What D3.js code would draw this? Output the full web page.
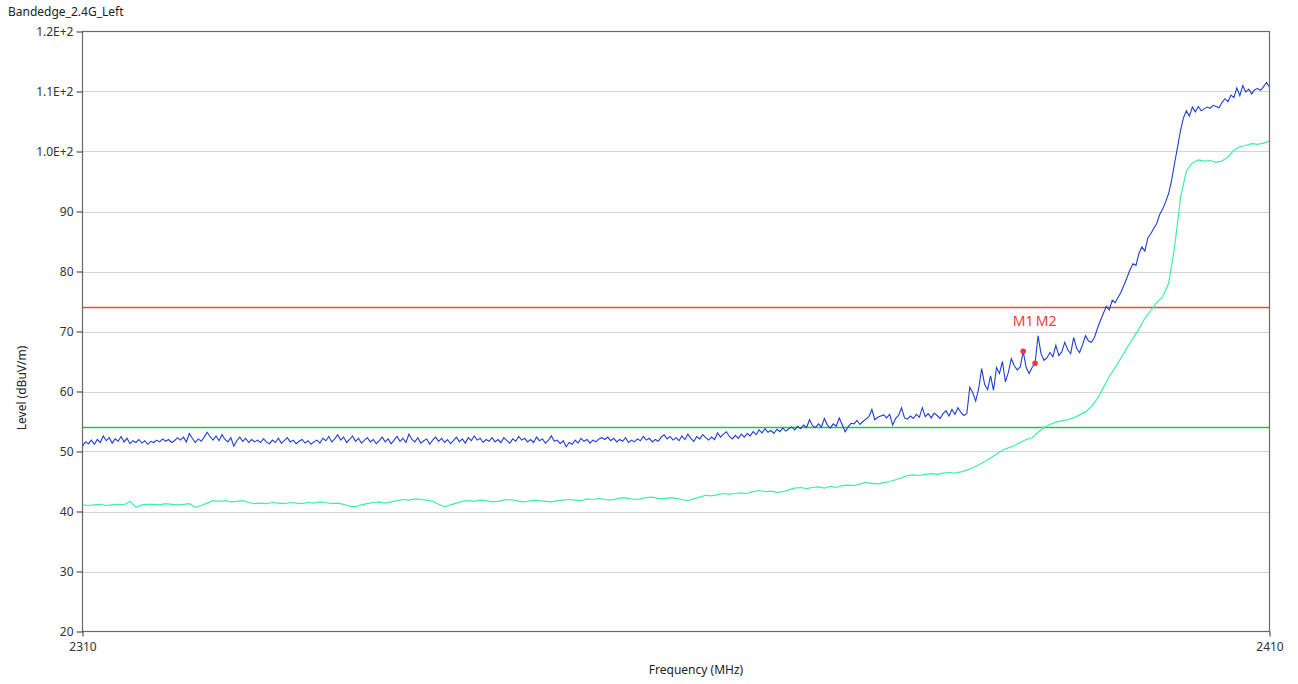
<!DOCTYPE html>
<html>
<head>
<meta charset="utf-8">
<script src="https://cdn.jsdelivr.net/npm/d3@7"></script>
<style>
  html, body { margin: 0; padding: 0; background: #fff; }
  svg { display: block; font-family: "Noto Sans", "Open Sans", sans-serif; }
</style>
</head>
<body>
<svg id="chart" width="1298" height="684"></svg>
<script>
// ---------------- DATA ----------------
const chartTitle = "Bandedge_2.4G_Left";
const xTitle = "Frequency (MHz)";
const yTitle = "Level (dBuV/m)";
const freqStart = 2310, freqStop = 2410;
const peakStep = 0.25;   // MHz between peak-trace samples
const avgStep = 0.5;     // MHz between average-trace samples
const yTickValues = [20, 30, 40, 50, 60, 70, 80, 90, 100, 110, 120];
const yTickLabels = ["20", "30", "40", "50", "60", "70", "80", "90", "1.0E+2", "1.1E+2", "1.2E+2"];
const xTickValues = [2310, 2410];
const limitPeak = 74;
const limitAvg = 54;

// Peak trace (blue), 2310 .. 2410 MHz every 0.25 MHz
const peakLevels = [
  50.9, 51.6, 51.3, 51.9, 51.2, 52.0, 51.5, 52.6, 51.8, 52.3, 51.4, 52.1, 51.7, 52.5, 51.6, 52.2, 51.3, 51.8, 51.5, 52.0,
  51.4, 51.8, 51.2, 51.7, 51.5, 51.9, 51.6, 52.1, 51.7, 52.0, 51.5, 51.8, 52.3, 51.9, 52.4, 51.6, 53.0, 52.2, 51.5, 52.1,
  51.7, 52.4, 53.2, 52.5, 51.9, 52.6, 51.8, 52.8, 52.0, 51.6, 52.3, 50.9, 51.8, 52.4, 51.7, 52.2, 51.5, 52.0, 51.6, 51.9,
  51.5, 52.1, 51.6, 51.3, 51.9, 51.5, 52.2, 51.4, 51.8, 52.3, 51.6, 51.9, 51.3, 51.7, 52.0, 51.4, 51.8, 51.2, 51.6, 51.9,
  51.4, 52.2, 51.8, 52.5, 51.6, 52.1, 52.8, 51.9, 52.4, 51.5, 52.0, 52.6, 51.7, 52.2, 51.4, 51.9, 52.3, 51.6, 52.0, 51.3,
  51.8, 52.4, 51.6, 52.1, 51.3, 51.9, 52.5, 51.7, 52.2, 51.5, 52.9, 52.0, 51.6, 52.3, 51.4, 51.8, 52.1, 51.2, 51.9, 52.4,
  51.7, 52.2, 51.5, 52.0, 51.3, 51.8, 52.4, 51.6, 52.1, 51.4, 52.3, 51.8, 52.6, 51.9, 52.2, 51.5, 52.0, 51.7, 52.3, 51.6,
  52.0, 51.5, 52.3, 51.8, 51.4, 52.1, 51.7, 52.5, 51.9, 52.2, 51.6, 52.0, 51.5, 52.4, 51.8, 52.1, 51.4, 51.9, 52.6, 51.7,
  51.9, 51.3, 51.8, 50.8, 51.5, 51.2, 51.9, 51.4, 52.2, 51.7, 52.0, 51.4, 51.9, 51.6, 52.1, 52.3, 52.0, 52.4, 51.8, 52.2,
  51.6, 52.0, 51.7, 52.3, 51.5, 51.9, 51.6, 52.1, 51.8, 52.5, 51.9, 52.2, 51.6, 52.0, 51.7, 52.4, 52.8, 52.1, 52.5, 51.9,
  52.3, 51.8, 52.6, 52.0, 52.9, 52.2, 51.7, 52.5, 52.1, 52.8, 52.3, 51.9, 52.4, 52.0, 53.1, 52.4, 52.9, 53.3, 52.5, 52.1,
  52.7, 52.2, 52.9, 52.4, 53.0, 52.6, 53.3, 52.8, 53.6, 53.1, 53.8, 53.2, 53.5, 53.0, 53.7, 53.3, 53.9, 53.4, 53.8, 54.1,
  53.6, 54.2, 53.8, 54.4, 54.0, 55.3, 54.3, 54.0, 54.6, 54.1, 55.5, 54.4, 53.9, 54.6, 54.2, 55.6, 54.5, 53.3, 54.1, 54.7,
  54.6, 55.2, 54.5, 55.0, 55.4, 55.8, 57.0, 55.3, 55.7, 55.9, 56.1, 55.6, 56.2, 54.4, 55.5, 56.0, 57.3, 55.6, 55.4, 55.9,
  55.5, 56.2, 55.7, 57.3, 55.8, 56.3, 55.6, 56.4, 56.0, 55.5, 56.3, 56.8, 55.9, 57.0, 56.2, 57.3, 56.5, 56.0, 56.3, 60.7,
  59.8, 58.4, 60.5, 63.8, 61.2, 60.3, 62.6, 60.2, 64.0, 63.0, 65.0, 61.6, 63.2, 65.5, 64.3, 63.6, 64.1, 66.7, 64.0, 63.0,
  64.0, 64.7, 69.3, 66.3, 65.2, 65.6, 66.5, 65.8, 67.7, 66.0, 66.6, 68.2, 67.0, 66.3, 69.0, 67.2, 66.5, 67.8, 69.3, 68.4,
  68.2, 69.0, 70.5, 71.8, 73.0, 74.2, 73.6, 75.2, 74.8, 75.7, 76.6, 77.8, 79.0, 80.3, 81.3, 81.0, 83.0, 84.1, 83.4, 85.6,
  86.3, 87.2, 88.0, 89.5, 90.4, 91.6, 93.0, 95.2, 98.0, 100.7, 103.5, 105.6, 106.8, 105.9, 107.4, 106.6, 107.5, 106.8, 107.1, 107.4,
  107.2, 107.7, 107.5, 107.3, 108.2, 108.8, 108.3, 109.4, 109.0, 110.6, 109.3, 111.0, 109.9, 110.4, 109.6, 110.3, 110.5, 110.2, 110.8, 111.5,
  110.7
];

// Average trace (green), 2310 .. 2410 MHz every 0.5 MHz
const avgLevels = [
  41.1, 41.0, 41.1, 41.2, 41.0, 41.1, 41.2, 41.1, 41.7, 40.7, 41.1, 41.2, 41.2, 41.1, 41.3, 41.2, 41.1, 41.2, 41.3, 40.7,
  41.0, 41.4, 41.8, 41.7, 41.8, 41.6, 41.7, 41.8, 41.5, 41.3, 41.4, 41.3, 41.5, 41.4, 41.3, 41.5, 41.4, 41.3, 41.5, 41.4,
  41.6, 41.5, 41.3, 41.4, 41.2, 40.9, 40.8, 41.1, 41.3, 41.5, 41.6, 41.4, 41.6, 41.8, 42.0, 41.9, 42.1, 42.0, 41.9, 41.7,
  41.2, 40.8, 41.1, 41.4, 41.7, 41.8, 41.7, 41.9, 41.8, 41.6, 41.7, 41.9, 42.0, 41.8, 41.6, 41.7, 41.9, 41.8, 41.7, 41.6,
  41.8, 41.9, 42.0, 41.9, 41.8, 42.1, 42.0, 42.2, 42.0, 41.9, 42.1, 42.3, 42.2, 42.0, 42.1, 42.3, 42.4, 42.2, 42.1, 42.3,
  42.2, 42.0, 41.8, 42.1, 42.4, 42.7, 42.6, 42.8, 43.0, 42.9, 43.0, 43.1, 43.0, 43.3, 43.5, 43.3, 43.4, 43.2, 43.3, 43.6,
  43.9, 44.0, 43.8, 44.0, 44.1, 43.9, 44.2, 44.0, 44.3, 44.4, 44.3, 44.6, 44.8, 44.7, 44.6, 44.8, 45.0, 45.3, 45.6, 46.0,
  46.1, 46.0, 46.2, 46.3, 46.2, 46.4, 46.5, 46.4, 46.6, 46.9, 47.3, 47.8, 48.3, 48.9, 49.6, 50.2, 50.6, 51.0, 51.5, 52.0,
  52.3, 53.2, 54.0, 54.5, 54.9, 55.1, 55.3, 55.6, 56.1, 56.6, 57.5, 58.8, 60.6, 62.5, 64.0, 65.6, 67.3, 68.9, 70.4, 72.2,
  73.5, 74.8, 75.8, 78.0, 84.0, 92.3, 96.8, 98.1, 98.6, 98.4, 98.5, 98.2, 98.4, 99.1, 100.2, 100.8, 101.0, 101.3, 101.2, 101.4,
  101.8
];

// Markers
const markerNames = ["M1", "M2"];
const markerFreqs = [2389.25, 2390.25];
const markerLevels = [66.7, 64.7];

// ---------------- LAYOUT ----------------
const svg = d3.select("#chart");
const plot = { left: 82.5, right: 1269.5, top: 31.5, bottom: 631.5 };

const x = d3.scaleLinear().domain([freqStart, freqStop]).range([plot.left, plot.right]);
const y = d3.scaleLinear().domain([20, 120]).range([plot.bottom, plot.top]);

const peakData = peakLevels.map((v, i) => ({ f: freqStart + i * peakStep, v }));
const avgData = avgLevels.map((v, i) => ({ f: freqStart + i * avgStep, v }));

// gridlines
svg.append("g")
  .selectAll("line")
  .data(yTickValues.filter(v => v > 20 && v < 120))
  .join("line")
  .attr("x1", plot.left).attr("x2", plot.right)
  .attr("y1", d => Math.round(y(d)) + 0.5).attr("y2", d => Math.round(y(d)) + 0.5)
  .attr("stroke", "#d4d4d4").attr("stroke-width", 1);

// clip
svg.append("clipPath").attr("id", "clip")
  .append("rect")
  .attr("x", plot.left).attr("y", plot.top)
  .attr("width", plot.right - plot.left).attr("height", plot.bottom - plot.top);

// limit lines
const limits = svg.append("g").attr("clip-path", "url(#clip)");
limits.append("line")
  .attr("x1", plot.left).attr("x2", plot.right)
  .attr("y1", y(limitPeak)).attr("y2", y(limitPeak))
  .attr("stroke", "#f0474a").attr("stroke-width", 1.6);
limits.append("line")
  .attr("x1", plot.left).attr("x2", plot.right)
  .attr("y1", y(limitAvg)).attr("y2", y(limitAvg))
  .attr("stroke", "#1ccb38").attr("stroke-width", 1.6);

// traces
const line = d3.line().x(d => x(d.f)).y(d => y(d.v));
const traces = svg.append("g").attr("clip-path", "url(#clip)");
traces.append("path").datum(avgData)
  .attr("d", line).attr("fill", "none")
  .attr("stroke", "#3cf0a6").attr("stroke-width", 1.2);
traces.append("path").datum(peakData)
  .attr("d", line).attr("fill", "none")
  .attr("stroke", "#1f3fd2").attr("stroke-width", 1.1);

// markers
const markers = markerNames.map((n, i) => ({ n, f: markerFreqs[i], v: markerLevels[i] }));
svg.append("g").selectAll("circle").data(markers).join("circle")
  .attr("cx", d => x(d.f)).attr("cy", d => y(d.v)).attr("r", 2.8)
  .attr("fill", "#f03a3a");
const labelDx = [0, 11];
svg.append("g").selectAll("text").data(markers).join("text")
  .attr("x", (d, i) => x(d.f) + labelDx[i])
  .attr("y", 326)
  .attr("text-anchor", "middle")
  .attr("fill", "#f03a3a")
  .attr("font-size", 14)
  .text(d => d.n);

// plot frame
svg.append("rect")
  .attr("x", plot.left).attr("y", plot.top)
  .attr("width", plot.right - plot.left).attr("height", plot.bottom - plot.top)
  .attr("fill", "none").attr("stroke", "#6a6a6a").attr("stroke-width", 1.2);

// y axis
const yAxis = d3.axisLeft(y)
  .tickValues(yTickValues)
  .tickFormat((d, i) => yTickLabels[i])
  .tickSize(6).tickPadding(3);
const gy = svg.append("g").attr("transform", `translate(${plot.left},0)`).call(yAxis);
gy.select(".domain").remove();
gy.selectAll(".tick line").attr("stroke", "#333");
gy.selectAll(".tick text").attr("fill", "#333").attr("font-size", 12)
  .attr("font-family", "\"Noto Sans\", sans-serif");

// x axis
const xAxis = d3.axisBottom(x).tickValues(xTickValues).tickFormat(d3.format("d"))
  .tickSize(5).tickPadding(6);
const gx = svg.append("g").attr("transform", `translate(0,${plot.bottom})`).call(xAxis);
gx.select(".domain").remove();
gx.selectAll(".tick line").attr("stroke", "#333");
gx.selectAll(".tick text").attr("fill", "#333").attr("font-size", 12)
  .attr("font-family", "\"Noto Sans\", sans-serif");

// titles
svg.append("text").attr("x", 8).attr("y", 16)
  .attr("font-size", 12).attr("fill", "#222").text(chartTitle);
svg.append("text").attr("x", 696).attr("y", 674)
  .attr("text-anchor", "middle").attr("font-size", 12).attr("fill", "#222").text(xTitle);
svg.append("text")
  .attr("transform", "translate(26,388) rotate(-90)")
  .attr("text-anchor", "middle").attr("font-size", 12).attr("fill", "#222").text(yTitle);
</script>
</body>
</html>
